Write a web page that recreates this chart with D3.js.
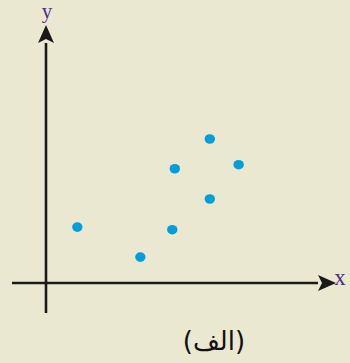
<!DOCTYPE html>
<html>
<head>
<meta charset="utf-8">
<script src="https://cdn.jsdelivr.net/npm/d3@7"></script>
<style>
  html, body { margin: 0; padding: 0; background: #ebe8d2; }
  svg { display: block; }
</style>
</head>
<body>
<div id="chart"></div>
<script>
let width = 350, height = 363

// scatter values (unitless)
let xValues = [1.12, 3.37, 4.51, 4.6, 5.85, 5.85, 6.88]
let yValues = [2.33, 1.08, 2.22, 4.76, 6.0, 3.5, 4.93]
let axisLabels = ['x', 'y']
let caption = '(الف)'

let svg = d3.select('#chart')
  .append('svg')
  .attr('width', width)
  .attr('height', height)

svg.append('rect')
  .attr('width', width)
  .attr('height', height)
  .attr('fill', '#ebe8d2')

let x = d3.scaleLinear().domain([0, 10]).range([46, 326])
let y = d3.scaleLinear().domain([0, 10]).range([283, 43])

// arrow heads
let defs = svg.append('defs')
defs.append('marker')
  .attr('id', 'arrow')
  .attr('viewBox', '0 0 18 16')
  .attr('refX', 0)
  .attr('refY', 8)
  .attr('markerWidth', 18)
  .attr('markerHeight', 16)
  .attr('markerUnits', 'userSpaceOnUse')
  .attr('orient', 'auto')
  .append('path')
  .attr('d', 'M0,0 L18,8 L0,16 L4,8 Z')
  .attr('fill', '#1a1a1a')

// x axis
svg.append('line')
  .attr('x1', 12).attr('y1', y(0))
  .attr('x2', 318).attr('y2', y(0))
  .attr('stroke', '#1a1a1a')
  .attr('stroke-width', 2.6)
  .attr('marker-end', 'url(#arrow)')

// y axis
svg.append('line')
  .attr('x1', x(0)).attr('y1', 313)
  .attr('x2', x(0)).attr('y2', 43)
  .attr('stroke', '#1a1a1a')
  .attr('stroke-width', 2.6)
  .attr('marker-end', 'url(#arrow)')

svg.append('text')
  .attr('x', 340).attr('y', 285)
  .attr('text-anchor', 'middle')
  .style('font-family', 'Liberation Serif, DejaVu Serif, serif')
  .style('font-size', '23px')
  .style('fill', '#4a2d8a')
  .text(axisLabels[0])

svg.append('text')
  .attr('x', 47).attr('y', 18)
  .attr('text-anchor', 'middle')
  .style('font-family', 'Liberation Serif, DejaVu Serif, serif')
  .style('font-size', '21px')
  .style('fill', '#4a2d8a')
  .text(axisLabels[1])

let points = xValues.map((d, i) => ({x: d, y: yValues[i]}))

svg.selectAll('.dot')
  .data(points)
  .enter().append('ellipse')
  .attr('class', 'dot')
  .attr('cx', d => x(d.x))
  .attr('cy', d => y(d.y))
  .attr('rx', 5.2)
  .attr('ry', 4.8)
  .attr('fill', '#009fdc')

svg.append('text')
  .attr('x', 214).attr('y', 350)
  .attr('text-anchor', 'middle')
  .attr('direction', 'rtl')
  .style('font-family', 'DejaVu Sans, Noto Sans, sans-serif')
  .style('font-size', '26px')
  .style('fill', '#111')
  .text(caption)
</script>
</body>
</html>
